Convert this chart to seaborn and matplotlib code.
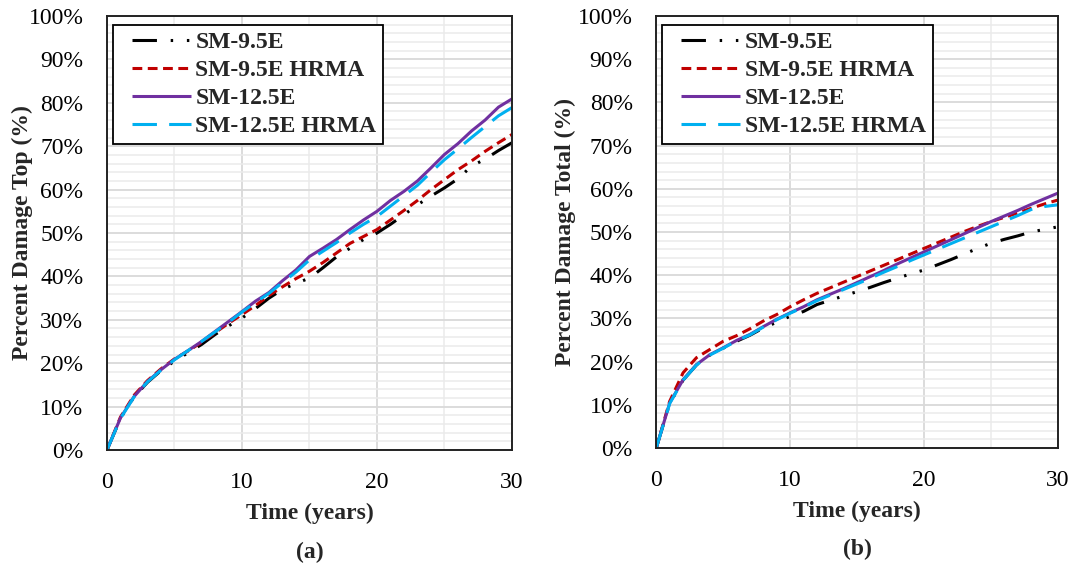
import numpy as np
import pandas as pd
import matplotlib
matplotlib.use("Agg")
import matplotlib.pyplot as plt
import seaborn as sns
from matplotlib.ticker import MultipleLocator, PercentFormatter
from matplotlib.lines import Line2D
from matplotlib.legend_handler import HandlerLine2D

# ---------------- data ----------------
years = list(range(0, 31))
series_names = ["SM-9.5E", "SM-9.5E HRMA", "SM-12.5E", "SM-12.5E HRMA"]

# Panel (a): Percent Damage Top (%)
top_sm95 = [0, 7.3, 12.2, 15.6, 18.3, 20.5, 22.4, 24.3, 26.6, 28.6, 30.4, 32.6, 35.0, 37.0, 38.4, 39.6,
            42.0, 44.5, 46.5, 48.5, 50.0, 52.0, 54.2, 56.5, 58.5, 60.4, 62.5, 65.4, 67.0, 69.0, 70.8]
top_sm95_hrma = [0, 7.6, 12.6, 16.0, 18.7, 21.0, 22.8, 24.8, 27.0, 29.2, 31.2, 33.3, 35.6, 37.6, 39.5, 41.2,
                 43.2, 45.4, 47.6, 49.2, 50.8, 53.0, 55.2, 57.5, 60.0, 62.3, 64.6, 66.6, 68.8, 70.8, 72.7]
top_sm125 = [0, 7.4, 12.3, 15.8, 18.5, 20.9, 22.9, 25.0, 27.3, 29.6, 31.9, 34.3, 36.3, 39.0, 41.5, 44.6,
             46.5, 48.5, 50.8, 53.0, 55.0, 57.5, 59.6, 62.0, 65.0, 68.1, 70.6, 73.5, 76.0, 79.0, 80.9]
top_sm125_hrma = [0, 7.3, 12.2, 15.7, 18.4, 20.8, 22.9, 25.0, 27.2, 29.4, 31.8, 34.0, 36.1, 38.6, 41.0, 43.8,
                  45.8, 47.8, 50.0, 52.0, 53.8, 56.2, 58.6, 61.0, 64.0, 66.9, 69.4, 72.0, 74.5, 77.0, 78.9]

# Panel (b): Percent Damage Total (%)
tot_sm95 = [0, 10.3, 15.7, 19.2, 21.5, 23.1, 24.7, 26.1, 27.8, 29.1, 30.5, 31.6, 33.2, 34.2, 35.2, 36.2,
            37.2, 38.3, 39.3, 40.3, 41.2, 42.4, 43.6, 44.9, 46.2, 47.4, 48.3, 49.1, 50.0, 50.6, 51.2]
tot_sm95_hrma = [0, 10.8, 17.4, 20.9, 22.8, 24.7, 26.0, 27.6, 29.4, 30.9, 32.7, 34.3, 35.8, 37.1, 38.4, 39.7,
                 41.0, 42.3, 43.6, 44.9, 46.2, 47.5, 48.8, 50.1, 51.3, 52.4, 53.4, 54.4, 55.5, 56.5, 57.4]
tot_sm125 = [0, 10.4, 15.8, 19.3, 21.6, 23.2, 24.9, 26.3, 28.1, 29.8, 31.3, 32.7, 34.3, 35.6, 36.9, 38.3,
             39.7, 41.1, 42.6, 44.0, 45.4, 46.8, 48.2, 49.6, 51.0, 52.4, 53.7, 55.0, 56.4, 57.7, 59.0]
tot_sm125_hrma = [0, 10.3, 15.7, 19.2, 21.5, 23.1, 24.8, 26.2, 28.0, 29.7, 31.2, 32.6, 34.1, 35.4, 36.7, 38.0,
                  39.3, 40.7, 42.0, 43.4, 44.7, 46.0, 47.3, 48.6, 49.9, 51.2, 52.5, 53.8, 55.2, 55.9, 56.3]

panel_a = [top_sm95, top_sm95_hrma, top_sm125, top_sm125_hrma]
panel_b = [tot_sm95, tot_sm95_hrma, tot_sm125, tot_sm125_hrma]

# ---------------- styles ----------------
colors = {"SM-9.5E": "#000000", "SM-9.5E HRMA": "#C00000",
          "SM-12.5E": "#7030A0", "SM-12.5E HRMA": "#00B0F0"}
dashes = {"SM-9.5E": (8, 4.5, 0.8, 4.5, 0.8, 4.5),
          "SM-9.5E HRMA": (3.2, 1.8),
          "SM-12.5E": None,
          "SM-12.5E HRMA": (8, 4)}

sns.set_theme(style="white")
plt.rcParams["font.family"] = ["Liberation Serif", "DejaVu Serif"]

fig = plt.figure(figsize=(10.72, 5.67), dpi=100)
ax_a = fig.add_axes([0.0998, 0.2063, 0.3778, 0.7655])
ax_b = fig.add_axes([0.6122, 0.2099, 0.3747, 0.7619])


def draw(ax, values, ylabel, tag, ylabelpad):
    for name, vals in zip(series_names, values):
        df = pd.DataFrame({"t": years, "v": vals})
        sns.lineplot(data=df, x="t", y="v", ax=ax, color=colors[name], lw=2.2,
                     label=name, legend=False)
        line = ax.get_lines()[-1]
        if dashes[name] is not None:
            line.set_dashes(dashes[name])
        line.set_solid_capstyle("butt")
        line.set_dash_capstyle("butt")
    ax.set_xlim(0, 30)
    ax.set_ylim(0, 100)
    ax.xaxis.set_major_locator(MultipleLocator(10))
    ax.xaxis.set_minor_locator(MultipleLocator(5))
    ax.yaxis.set_major_locator(MultipleLocator(10))
    ax.yaxis.set_minor_locator(MultipleLocator(2))
    ax.yaxis.set_major_formatter(PercentFormatter(decimals=0))
    ax.grid(which="major", color="#D9D9D9", lw=1.3)
    ax.grid(which="minor", color="#EBEBEB", lw=1.1)
    ax.set_axisbelow(True)
    for sp in ax.spines.values():
        sp.set_visible(True)
        sp.set_color("#222222")
        sp.set_linewidth(1.4)
    ax.tick_params(axis="both", which="both", length=0, labelsize=17, colors="black")
    ax.tick_params(axis="x", pad=16)
    ax.tick_params(axis="y", pad=17)
    ax.set_xlabel("Time (years)", fontsize=17, fontweight="bold", labelpad=7)
    ax.set_ylabel(ylabel, fontsize=17, fontweight="bold", labelpad=ylabelpad)
    leg = ax.legend(loc="upper left", bbox_to_anchor=(0.014, 0.98),
                    prop={"weight": "bold", "size": 17}, frameon=True, fancybox=False,
                    edgecolor="black", framealpha=1, handlelength=3.0, handletextpad=0.2,
                    labelspacing=0.27, borderpad=0.3, borderaxespad=0.0,
                    handler_map={Line2D: HandlerLine2D(xpad=0.5)})
    leg.get_frame().set_linewidth(1.3)
    ax.text(0.5, -0.235, tag, transform=ax.transAxes, ha="center", va="center",
            fontsize=17, fontweight="bold")


draw(ax_a, panel_a, "Percent Damage Top (%)", "(a)", -3)
draw(ax_b, panel_b, "Percent Damage Total (%)", "(b)", 1.5)

fig.savefig("out.png", dpi=100)
